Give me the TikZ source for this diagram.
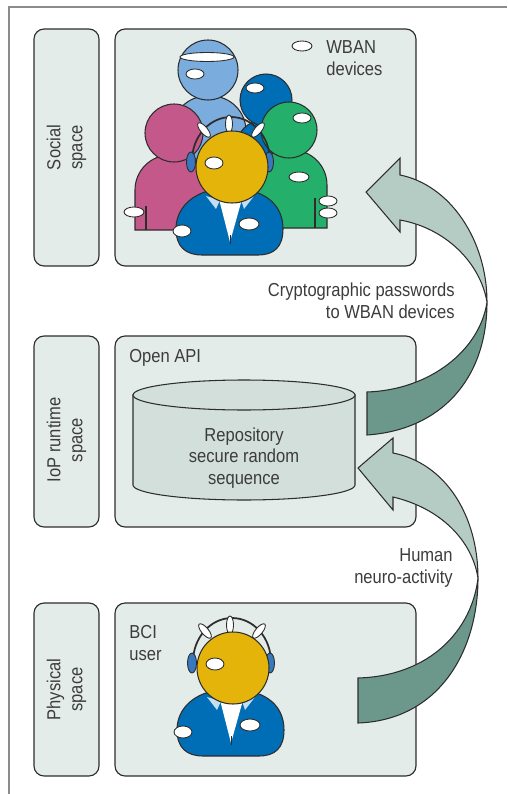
\documentclass[tikz,border=0pt]{standalone}
\usepackage{fontspec}
\setmainfont[FakeStretch=0.88]{Liberation Sans}
\usetikzlibrary{calc}
\definecolor{BoxClr}{RGB}{228,236,233}
\definecolor{CylClr}{RGB}{210,223,219}
\definecolor{LineClr}{RGB}{45,45,45}
\definecolor{TextClr}{RGB}{60,60,60}
\definecolor{FrameClr}{RGB}{140,140,140}
\definecolor{ArrowLightClr}{RGB}{181,204,197}
\definecolor{ArrowDarkClr}{RGB}{108,152,140}
\definecolor{LightBlueClr}{RGB}{122,172,222}
\definecolor{DarkBlueClr}{RGB}{0,110,182}
\definecolor{MagentaClr}{RGB}{197,88,138}
\definecolor{GreenClr}{RGB}{36,176,106}
\definecolor{YellowClr}{RGB}{229,180,10}
\definecolor{CollarClr}{RGB}{197,222,242}
\definecolor{EarClr}{RGB}{55,120,190}

\tikzset{
  bciuser/.pic={
    \draw[line width=1pt,draw=LineClr] (-40,-6) arc[start angle=180,end angle=360,x radius=39,y radius=44];
    \draw[line width=0.5pt,draw=LineClr,fill=white] (-3,-43) ellipse[x radius=3.5,y radius=9];
    \draw[line width=0.5pt,draw=LineClr,fill=white,rotate around={40:(-28,-37)}] (-28,-37) ellipse[x radius=3.5,y radius=9];
    \draw[line width=0.5pt,draw=LineClr,fill=white,rotate around={-40:(26,-37)}] (26,-37) ellipse[x radius=3.5,y radius=9];
    \draw[line width=0.5pt,draw=LineClr,fill=EarClr] (-41,-5) ellipse[x radius=4.5,y radius=10];
    \draw[line width=0.5pt,draw=LineClr,fill=EarClr] (37,-5) ellipse[x radius=4.5,y radius=10];
    \draw[line width=0.6pt,draw=LineClr,fill=DarkBlueClr] (-24,24) .. controls (-45,30) and (-56,45) .. (-56,62)
      .. controls (-56,80) and (-46,88) .. (-30,88) -- (26,88) .. controls (42,88) and (51,80) .. (51,62)
      .. controls (51,45) and (42,30) .. (20,24) -- cycle;
    \fill[CollarClr] (-26,29) -- (-16,42) -- (-12,33) -- cycle;
    \fill[CollarClr] (22,29) -- (12,42) -- (9,33) -- cycle;
    \fill[white] (-13,32) -- (10,32) -- (-2,75) -- cycle;
    \draw[line width=0.5pt,draw=LineClr] (-2,68) -- (-2,77);
    \draw[line width=0.5pt,draw=LineClr,fill=white] (-50,64) ellipse[x radius=9,y radius=6];
    \draw[line width=0.5pt,draw=LineClr,fill=white] (17,57) ellipse[x radius=10,y radius=6];
    \draw[line width=0.6pt,draw=LineClr,fill=YellowClr] (0,0) circle[radius=36];
    \draw[line width=0.5pt,draw=LineClr,fill=white] (-18,-4) ellipse[x radius=9,y radius=6];
  }
}

\begin{document}
\begin{tikzpicture}[x=0.02cm,y=-0.02cm,
  every node/.style={font=\fontsize{10.7}{12.4}\selectfont,text=TextClr,inner sep=0pt},
  spacebox/.style={draw=LineClr,fill=BoxClr,line width=0.65pt,rounded corners=0.2cm},
  wban/.style={draw=LineClr,fill=white,line width=0.5pt},
  skin/.style={draw=LineClr,line width=0.6pt},
  ribbon/.style={draw=LineClr,line width=0.6pt}]
\useasboundingbox (0,0) rectangle (507,794);

\draw[FrameClr,line width=1pt] (507,7) -- (9,7) -- (9,794);

\node[spacebox,minimum width=1.3cm,minimum height=4.74cm] (socialtag) at (66.5,147.5) {};
\node[spacebox,minimum width=6.02cm,minimum height=4.74cm] (socialbox) at (265.5,147.5) {};
\node[spacebox,minimum width=1.3cm,minimum height=3.82cm] (ioptag) at (66.5,431.5) {};
\node[spacebox,minimum width=6.02cm,minimum height=3.82cm] (iopbox) at (265.5,431.5) {};
\node[spacebox,minimum width=1.3cm,minimum height=3.46cm] (phystag) at (66.5,689.5) {};
\node[spacebox,minimum width=6.02cm,minimum height=3.46cm] (physbox) at (265.5,689.5) {};
\node[rotate=90,align=center] (socialtext) at (socialtag) {Social\\space};
\node[rotate=90,align=center] (ioptext) at (66.5,440) {IoP runtime\\space};
\node[rotate=90,align=center] (phystext) at (phystag) {Physical\\space};

% crowd in the social space
\draw[skin,fill=LightBlueClr] (172,224) [rounded corners=0.7cm] -- (172,96) -- (246,96) [sharp corners] -- (246,224) -- cycle;
\draw[skin,fill=LightBlueClr] (208,70) circle[radius=30];
\draw[wban] (207,57) ellipse[x radius=27,y radius=4.5];
\draw[wban] (195,74) ellipse[x radius=9,y radius=5];
\draw[skin,fill=DarkBlueClr] (236,224) [rounded corners=0.55cm] -- (236,120) -- (296,120) [sharp corners] -- (296,224) -- cycle;
\draw[skin,fill=DarkBlueClr] (266,100) circle[radius=26];
\draw[wban] (255,88) ellipse[x radius=9,y radius=5];
\draw[skin,fill=MagentaClr] (135,230) [rounded corners=0.7cm] -- (135,155) -- (215,155) [sharp corners] -- (215,230) -- cycle;
\draw[skin] (146,206) -- (146,230);
\draw[skin,fill=MagentaClr] (174,133) circle[radius=29];
\draw[wban] (134,212) ellipse[x radius=10,y radius=5];
\draw[skin,fill=GreenClr] (253,228) [rounded corners=0.7cm] -- (253,150) -- (327,150) [sharp corners] -- (327,228) -- cycle;
\draw[skin] (315,198) -- (315,228);
\draw[skin,fill=GreenClr] (289,130) circle[radius=28];
\draw[wban] (302,118) ellipse[x radius=9,y radius=5];
\draw[wban] (299,177) ellipse[x radius=10,y radius=5];
\draw[wban] (328,201) ellipse[x radius=9,y radius=5];
\draw[wban] (328,213) ellipse[x radius=9,y radius=5];
\pic (front) at (232,167) {bciuser};

\draw[wban] (302,46) ellipse[x radius=10,y radius=5];
\node[anchor=west,align=left] (wbantext) at (326,58) {WBAN\\devices};

% repository
\draw[skin,fill=CylClr] (133,395) -- (133,485) arc[start angle=180,end angle=0,x radius=111,y radius=15] -- (355,395) -- cycle;
\draw[skin,fill=CylClr] (244,395) ellipse[x radius=111,y radius=15];
\node[align=center] (repo) at (244,458) {Repository\\secure random\\sequence};
\node[anchor=west] (openapi) at (129,358) {Open API};

\pic (bci) at (233,668) {bciuser};
\node[anchor=west,align=left] (bcitext) at (129,643) {BCI\\user};

% twisted arrows
\draw[ribbon,fill=ArrowDarkClr] (487,302) .. controls (487,380) and (440,430) .. (367,435) -- (367,392)
  .. controls (430,390) and (480,350) .. (487,302) -- cycle;
\draw[ribbon,fill=ArrowLightClr] (366,192) -- (400,158) -- (400,175) .. controls (450,185) and (487,240) .. (487,302)
  .. controls (480,262) and (445,228) .. (400,220) -- (400,232) -- cycle;
\draw[ribbon,fill=ArrowDarkClr] (478,578) .. controls (478,650) and (440,720) .. (358,723) -- (358,678)
  .. controls (430,676) and (472,630) .. (478,578) -- cycle;
\draw[ribbon,fill=ArrowLightClr] (358,468) -- (393,438) -- (393,453) .. controls (445,463) and (478,515) .. (478,578)
  .. controls (472,540) and (440,508) .. (393,497) -- (393,510) -- cycle;

\node[anchor=east,align=right] (cryptotext) at (455,301) {Cryptographic passwords\\to WBAN devices};
\node[anchor=east,align=right] (neurotext) at (453,568) {Human\\neuro-activity};
\end{tikzpicture}
\end{document}
